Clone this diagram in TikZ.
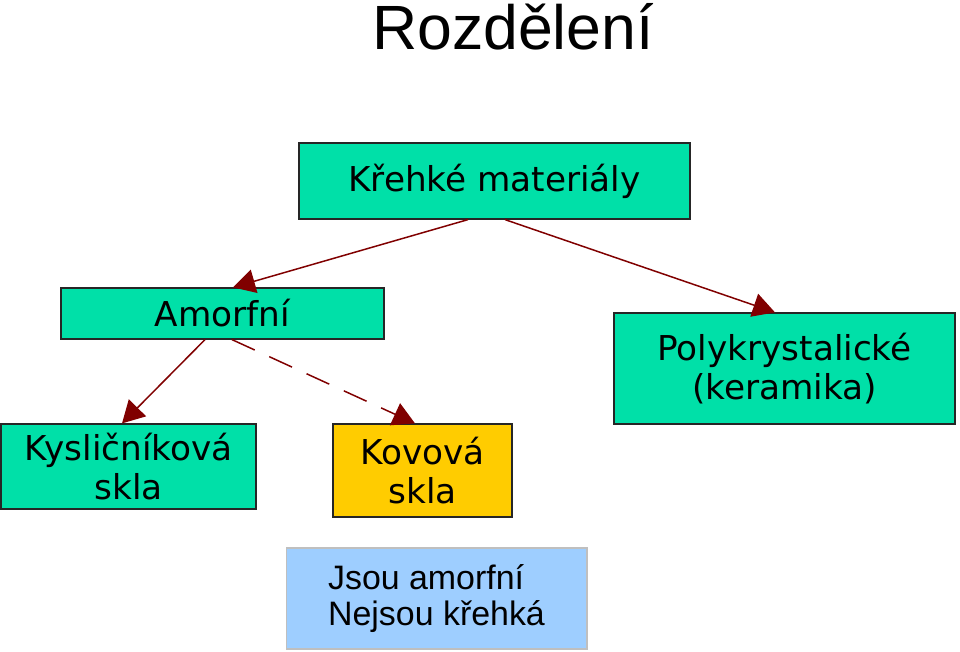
\documentclass[tikz,border=0pt]{standalone}
\usepackage{fontspec}
\setmainfont{DejaVu Sans}
\newfontfamily\arialfont{Liberation Sans}
\usepackage{xcolor}
\usetikzlibrary{arrows.meta}

\definecolor{boxgreen}{RGB}{0,224,168}
\definecolor{boxyellow}{RGB}{255,204,0}
\definecolor{boxblue}{RGB}{158,206,255}
\definecolor{arrowred}{RGB}{128,0,0}

\begin{document}
\begin{tikzpicture}[
        x=0.02cm, y=-0.02cm,
        font=\fontsize{19.5}{22}\selectfont,
        box/.style={
            rectangle,
            draw=black!85,
            line width=0.7pt,
            fill=boxgreen,
            align=center,
            inner sep=0pt
        },
        notebox/.style={
            rectangle,
            draw=black!25,
            line width=0.6pt,
            fill=boxblue,
            align=left,
            inner sep=0pt,
            font=\arialfont\fontsize{19.3}{21}\selectfont
        },
        link/.style={
            draw=arrowred,
            line width=0.85pt,
            -{Triangle[length=0.44cm,width=0.48cm]}
        }
    ]
    \useasboundingbox (0,0) rectangle (960,652);

    % Title
    \node[font=\arialfont\fontsize{35.6}{40}\selectfont] (title) at (513,27) {Rozdělení};

    % ---------- Boxes ----------
    \node[box, minimum width=7.82cm, minimum height=1.52cm] (brittle) at (494.5,181) {Křehké materiály};
    \node[box, minimum width=6.46cm, minimum height=1.02cm] (amorph)  at (222.5,313.5) {Amorfní};
    \node[box, minimum width=6.82cm, minimum height=2.22cm] (poly)    at (784.5,368.5) {Polykrystalické\\(keramika)};
    \node[box, minimum width=5.10cm, minimum height=1.70cm] (oxide)   at (128.5,466.5) {Kysličníková\\skla};
    \node[box, fill=boxyellow, minimum width=3.58cm, minimum height=1.86cm] (metal) at (422.5,470.5) {Kovová\\skla};
    \node[notebox, minimum width=6.02cm, minimum height=2.02cm] (note) at (436.5,598.5) {Jsou amorfní\\Nejsou křehká};

    % ---------- Arrows ----------
    \draw[link] ([xshift=-0.53cm]brittle.south) -- ([xshift=0.21cm]amorph.north);
    \draw[link] ([xshift=0.21cm]brittle.south) -- ([xshift=-0.19cm]poly.north);
    \draw[link] ([xshift=-0.35cm]amorph.south) -- ([xshift=-0.13cm]oxide.north);
    \draw[link, dash pattern=on 0.5cm off 0.32cm] ([xshift=0.19cm]amorph.south) -- ([xshift=-0.15cm]metal.north);

\end{tikzpicture}
\end{document}
